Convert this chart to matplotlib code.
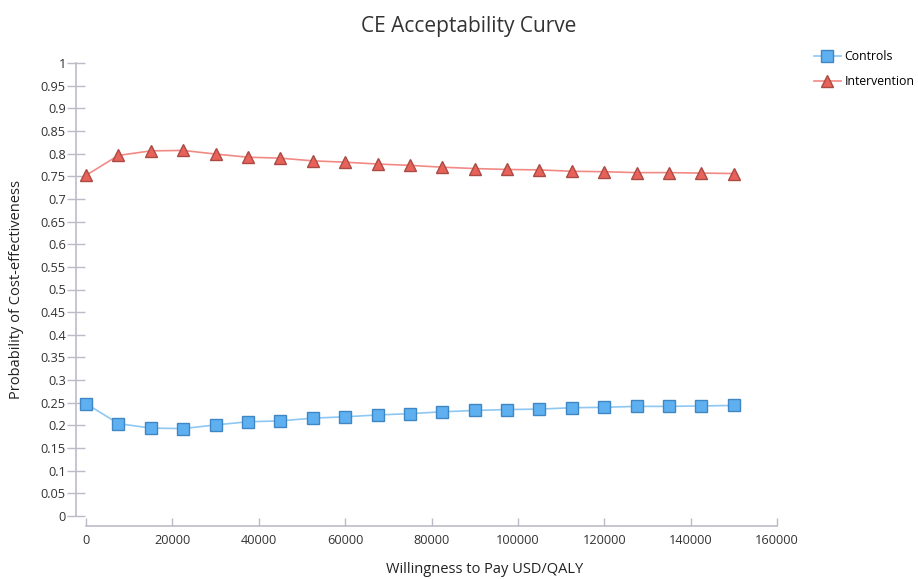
import matplotlib
matplotlib.use("Agg")
import matplotlib.pyplot as plt
from matplotlib.ticker import MultipleLocator

wtp = [0, 7500, 15000, 22500, 30000, 37500, 45000, 52500, 60000, 67500, 75000,
       82500, 90000, 97500, 105000, 112500, 120000, 127500, 135000, 142500, 150000]
controls = [0.248, 0.204, 0.194, 0.193, 0.201, 0.208, 0.210, 0.216, 0.219, 0.223, 0.226,
            0.230, 0.233, 0.235, 0.236, 0.239, 0.240, 0.242, 0.242, 0.243, 0.244]
intervention = [0.752, 0.796, 0.806, 0.807, 0.799, 0.792, 0.790, 0.784, 0.781, 0.777, 0.774,
                0.770, 0.767, 0.765, 0.764, 0.761, 0.760, 0.758, 0.758, 0.757, 0.756]

plt.rcParams['font.family'] = ['Open Sans', 'DejaVu Sans']

fig = plt.figure(figsize=(9.18, 5.79), dpi=100)
ax = fig.add_axes([86/918, 63/579, (777-86)/918, (516-63)/579])

ax.plot(wtp, controls, color='#8ec8f2', lw=1.2, marker='s', ms=8,
        mfc='#5fb0f0', mec='#3f86c4', mew=1.0, label='Controls', zorder=3, clip_on=False)
ax.plot(wtp, intervention, color='#f28a84', lw=1.2, marker='^', ms=9,
        mfc='#e8625a', mec='#a94a44', mew=1.0, label='Intervention', zorder=3, clip_on=False)

ax.set_xlim(0, 160000)
ax.set_ylim(0, 1)
ax.xaxis.set_major_locator(MultipleLocator(20000))
ax.yaxis.set_major_locator(MultipleLocator(0.05))
ax.yaxis.set_major_formatter(plt.FuncFormatter(lambda v, p: ('%.2f' % v).rstrip('0').rstrip('.') if v else '0'))

for s in ['top', 'right']:
    ax.spines[s].set_visible(False)
for s in ['left', 'bottom']:
    ax.spines[s].set_position(('outward', 7))
    ax.spines[s].set_color('#bcbcc8')
    ax.spines[s].set_linewidth(1.2)

ax.tick_params(axis='y', direction='inout', length=13, width=1, color='#bcbcc8',
               labelsize=9.2, labelcolor='#333333', pad=1)
ax.tick_params(axis='x', direction='in', length=6, width=1, color='#bcbcc8',
               labelsize=9.2, labelcolor='#333333', pad=6)

ax.set_title('CE Acceptability Curve', fontsize=15, color='#333333', pad=22,
             x=(469-86)/691)
ax.set_xlabel('Willingness to Pay USD/QALY', fontsize=10.5, color='#222222')
ax.xaxis.set_label_coords((485-86)/691, -(562-516)/453)
ax.set_ylabel('Probability of Cost-effectiveness', fontsize=10.5, color='#222222', labelpad=12)

fig.legend(loc='upper left', bbox_to_anchor=(814/918, 1 - 50/579), frameon=False,
           fontsize=8.8, handlelength=2.2, labelspacing=1.0, handletextpad=0.3,
           borderaxespad=0, borderpad=0)

fig.savefig('out.png', dpi=100)
